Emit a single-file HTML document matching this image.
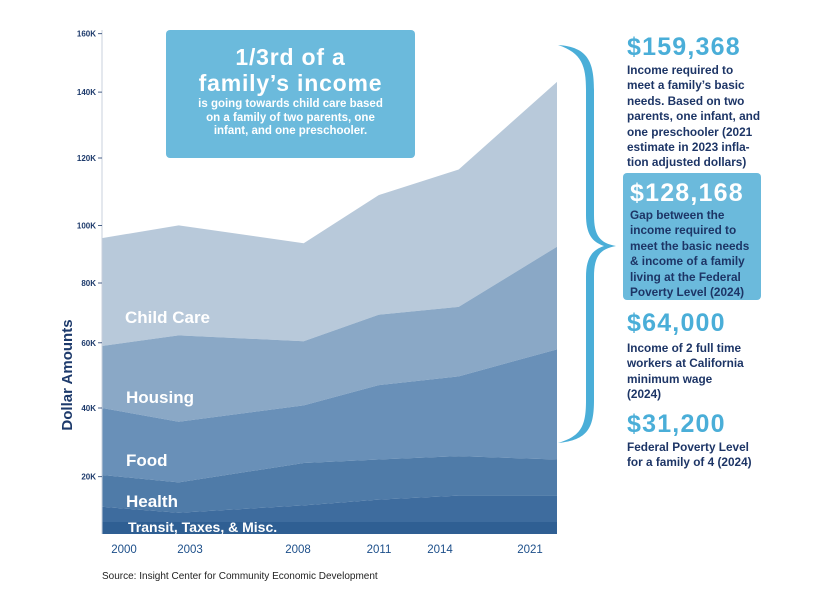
<!DOCTYPE html>
<html><head><meta charset="utf-8">
<style>
body{margin:0;background:#fff;font-family:"Liberation Sans",sans-serif;}
#wrap{position:relative;width:832px;height:600px;overflow:hidden;background:#fff;}
.abs{position:absolute;}
.big{font-family:"Liberation Sans",sans-serif;font-weight:900;color:#4aaed8;font-size:25px;letter-spacing:1.2px;}
.body{font-weight:bold;color:#1d3566;font-size:11.8px;line-height:15.4px;}
</style></head>
<body>
<div id="wrap">
<svg id="chart" class="abs" style="left:0;top:0" width="832" height="600"></svg>

<div class="abs" style="left:166px;top:30px;width:249px;height:128px;background:#6bbadc;border-radius:4px;color:#fff;text-align:center;">
  <div style="font-weight:900;font-size:23px;line-height:26px;margin-top:14px;letter-spacing:0.8px;">1/3rd of a<br>family’s income</div>
  <div style="font-weight:bold;font-size:11.5px;line-height:13.5px;margin-top:2px;">is going towards child care based<br>on a family of two parents, one<br>infant, and one preschooler.</div>
</div>

<div class="abs big" style="left:627px;top:33px;">$159,368</div>
<div class="abs body" style="left:627px;top:63px;">Income required to<br>meet a family’s basic<br>needs. Based on two<br>parents, one infant, and<br>one preschooler (2021<br>estimate in 2023 infla-<br>tion adjusted dollars)</div>

<div class="abs" style="left:623px;top:173px;width:138px;height:127px;background:#6bbadc;border-radius:4px;"></div>
<div class="abs big" style="left:630px;top:179px;color:#fff;">$128,168</div>
<div class="abs body" style="left:630px;top:208px;">Gap between the<br>income required to<br>meet the basic needs<br>&amp; income of a family<br>living at the Federal<br>Poverty Level (2024)</div>

<div class="abs big" style="left:627px;top:309px;">$64,000</div>
<div class="abs body" style="left:627px;top:341px;">Income of 2 full time<br>workers at California<br>minimum wage<br>(2024)</div>

<div class="abs big" style="left:627px;top:410px;">$31,200</div>
<div class="abs body" style="left:627px;top:440px;">Federal Poverty Level<br>for a family of 4 (2024)</div>

<div class="abs" style="left:102px;top:571px;font-size:10px;color:#222;">Source: Insight Center for Community Economic Development</div>
</div>
<script>
const years=[2000,2003,2008,2011,2014,2021];
const misc=[4.2,4.2,4.2,4.2,4.2,4.2];
const transit=[9.5,7.4,10,12,13.4,13.4];
const health=[20.5,18,24,25,26,25];
const food=[40,36,40.8,47,49.7,58];
const housing=[59,62.5,60.5,69.4,72,92.6];
const childCare=[95.6,100,93.8,109,116.6,143.5];
const yTicks=[20,40,60,80,100,120,140,160];
const xTickLabels=["2000","2003","2008","2011","2014","2021"];

const NS="http://www.w3.org/2000/svg";
const svg=document.getElementById('chart');
const tickV=[0,20,40,60,80,100,120,140,160];
const tickPx=[534,476.7,408,342.8,283,225.4,158,92.1,33.7];
function yScale(v){
  for(let i=0;i<tickV.length-1;i++){
    if(v<=tickV[i+1]||i===tickV.length-2){
      const t=(v-tickV[i])/(tickV[i+1]-tickV[i]);
      return tickPx[i]+t*(tickPx[i+1]-tickPx[i]);
    }
  }
}
const calYears=[2000,2003,2008,2011,2014,2021];
const calPx=[102,178.7,303.7,378.7,458.7,557];
function xScale(yr){
  for(let i=0;i<calYears.length-1;i++){
    if(yr<=calYears[i+1]||i===calYears.length-2){
      const t=(yr-calYears[i])/(calYears[i+1]-calYears[i]);
      return calPx[i]+t*(calPx[i+1]-calPx[i]);
    }
  }
}
function mk(tag,attrs){const e=document.createElementNS(NS,tag);for(const k in attrs)e.setAttribute(k,attrs[k]);svg.appendChild(e);return e;}

const layers=[
 {vals:childCare,lower:housing,color:'#b8c9da',name:'area-child-care'},
 {vals:housing,lower:food,color:'#8aa8c6',name:'area-housing'},
 {vals:food,lower:health,color:'#6990b8',name:'area-food'},
 {vals:health,lower:transit,color:'#4f7ba8',name:'area-health'},
 {vals:transit,lower:misc,color:'#3e6c9e',name:'area-transit'},
 {vals:misc,lower:null,color:'#2f5f93',name:'area-taxes-misc'}
];
layers.forEach(L=>{
  let d='';
  years.forEach((y,i)=>{d+=(i?'L':'M')+xScale(y)+','+yScale(L.vals[i]);});
  for(let i=years.length-1;i>=0;i--){d+='L'+xScale(years[i])+','+yScale(L.lower?L.lower[i]:0);}
  const p=mk('path',{d:d+'Z',fill:L.color});
  
  
});
const ax=mk('line',{x1:102,y1:30,x2:102,y2:534,stroke:'#c8d0dc','stroke-width':1});


yTicks.forEach(v=>{
  const t=mk('text',{x:96,y:yScale(v)+3,'text-anchor':'end','font-size':'8','font-weight':'bold',fill:'#1d3a6b','font-family':'Liberation Sans, sans-serif'});
  t.textContent=v+'K';
  
  
  const tk=mk('line',{x1:98,x2:102,y1:yScale(v),y2:yScale(v),stroke:'#1d3a6b','stroke-width':0.8});
  
  
});
const labelX=[124,190,298,379,440,530];
xTickLabels.forEach((s,i)=>{
  const t=mk('text',{x:labelX[i],y:553,'text-anchor':'middle','font-size':'11.5',fill:'#1d4f8a','font-family':'Liberation Sans, sans-serif'});
  t.textContent=s;
  
  
});
const yt=mk('text',{x:0,y:0,transform:'translate(72,375) rotate(-90)','text-anchor':'middle','font-size':'15','font-weight':'bold',fill:'#1d3a6b','font-family':'Liberation Sans, sans-serif'});
yt.textContent='Dollar Amounts';


const lbls=[['Child Care',125,323,17],['Housing',126,403,17],['Food',126,466,17],['Health',126,507,17],['Transit, Taxes, & Misc.',128,532,14]];
lbls.forEach(l=>{
  const t=mk('text',{x:l[1],y:l[2],'font-size':l[3],'font-weight':'bold',fill:'#fff','font-family':'Liberation Sans, sans-serif'});
  t.textContent=l[0];
  
  
});
const br=mk('path',{d:'M558,45 C588,47 594,62 594,90 L594,215 C594,236 600,243 616,246 C600,249 594,256 594,277 L594,400 C594,428 588,440 558,443 C582,436 586,425 586,400 L586,277 C586,258 592,250 604,246 C592,242 586,234 586,215 L586,90 C586,66 582,53 558,45 Z',fill:'#4aaed8'});


</script>
</body></html>
